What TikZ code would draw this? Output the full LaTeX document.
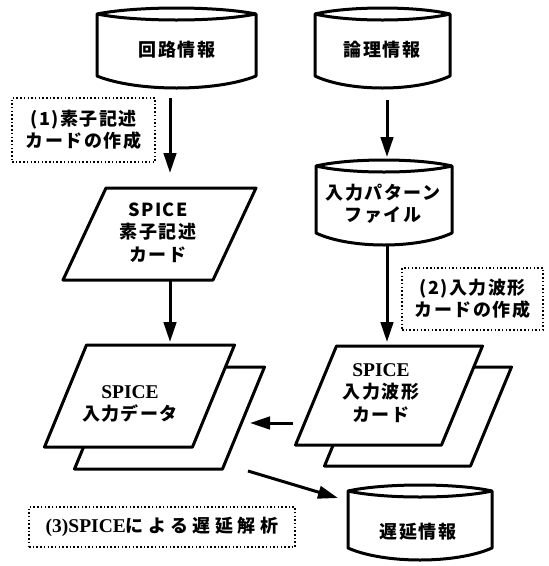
\documentclass[tikz,border=0pt]{standalone}
\usepackage{fontspec}
\usetikzlibrary{arrows.meta,calc}
\newfontfamily\jp{Noto Sans CJK JP}[LetterSpace=8]
\newfontfamily\jpw{Noto Sans CJK JP}[LetterSpace=25]
\newfontfamily\ser{Liberation Serif}
\tikzset{
 shp/.style={line width=3pt, line join=round},
 arr/.style={line width=3pt, -{Triangle[length=20pt,width=12.5pt]}},
 dotbox/.style={draw, line width=1.8pt, dash pattern=on 1.5pt off 2.2pt},
 txt/.style={font=\fontsize{18}{22.5}\selectfont\jp\bfseries, align=center, inner sep=0pt},
 area/.style={inner sep=0pt, outer sep=0pt},
}
\newcommand\cylout[3]{%
 \begin{scope}[shift={(#1.center)}]
  \draw[shp,fill=white] (-#2,-#3+6) .. controls (-#2*0.5,-#3-2) and (#2*0.5,-#3-2) .. (#2,-#3+6) -- (#2,#3-12) .. controls (#2*0.5,#3+4) and (-#2*0.5,#3+4) .. (-#2,#3-12) -- cycle;
  \draw[shp] (-#2,-#3+6) .. controls (-#2*0.5,-#3+14) and (#2*0.5,-#3+14) .. (#2,-#3+6);
 \end{scope}}
\newcommand\paraout[4]{%
 \draw[shp,fill=white] ([shift={(-#2+#4,-#3)}]#1.center) -- ([shift={(#2+#4,-#3)}]#1.center) -- ([shift={(#2-#4,#3)}]#1.center) -- ([shift={(-#2-#4,#3)}]#1.center) -- cycle;}
\begin{document}
\begin{tikzpicture}[x=1pt,y=-1pt]
\useasboundingbox (0,0) rectangle (549,566);
% shape areas
\node[area, minimum width=159pt, minimum height=80pt] (c1) at (176.5,48) {};
\node[area, minimum width=135pt, minimum height=80pt] (c2) at (382.5,48) {};
\node[area, minimum width=136pt, minimum height=85pt] (c3) at (384,202.5) {};
\node[area, minimum width=144pt, minimum height=75pt] (c4) at (420,522.5) {};
\node[area, minimum width=150pt, minimum height=92pt] (p1) at (159.5,234) {};
\node[area, minimum width=148pt, minimum height=102pt] (p2b) at (169.5,418) {};
\node[area, minimum width=148pt, minimum height=102pt] (p2) at (139.5,396) {};
\node[area, minimum width=146pt, minimum height=99pt] (p3b) at (418,416.5) {};
\node[area, minimum width=146pt, minimum height=99pt] (p3) at (389,395.5) {};
% outlines
\cylout{c1}{79.5}{40}
\cylout{c2}{67.5}{40}
\cylout{c3}{68}{42.5}
\cylout{c4}{72}{37.5}
\paraout{p1}{75}{46}{21.5}
\paraout{p2b}{74}{51}{21}
\paraout{p2}{74}{51}{21}
\paraout{p3b}{73}{49.5}{20.5}
\paraout{p3}{73}{49.5}{20.5}
% texts
\node[txt] (t1) at (177,50) {回路情報};
\node[txt] (t2) at (382,50) {論理情報};
\node[txt] (t3) at (383,204) {入力パターン\\ファイル};
\node[txt] (t4) at (418,532) {遅延情報};
\node[txt] (tp1) at (158,232.5) {SPICE\\素子記述\\カード};
\node[txt] (tp2) at (130,404) {{\ser\fontsize{19.5}{22.5}\selectfont SPICE}\\入力データ};
\node[txt] (tp3) at (381,393) {{\ser\fontsize{19.5}{22}\selectfont SPICE}\\入力波形\\カード};
% dotted boxes
\node[dotbox, txt, minimum width=143pt, minimum height=64pt] (b1) at (83.5,130) {(1)素子記述\\カードの作成};
\node[dotbox, txt, minimum width=141pt, minimum height=62pt] (b2) at (472.5,299) {(2)入力波形\\カードの作成};
\node[dotbox, txt, minimum width=266pt, minimum height=40pt] (b3) at (162,527) {{\ser\fontsize{19.5}{22}\selectfont (3)SPICE}{\jpw\bfseries による遅延解析}};
% arrows
\draw[arr, shorten <=10pt, shorten >=15pt] ([xshift=-6.5pt]c1.south) -- ([xshift=10.5pt]p1.north);
\draw[arr, shorten >=3pt] ([xshift=10.5pt]p1.south) -- ([xshift=30.5pt]p2.north);
\draw[arr, shorten <=12pt, shorten >=3pt] ([xshift=4.5pt]c2.south) -- ([xshift=3pt]c3.north);
\draw[arr, shorten >=4pt] ([xshift=3pt]c3.south) -- ([xshift=-2pt]p3.north);
\draw[arr] ([xshift=-23pt,yshift=-27.5pt]p3.west) -- ([xshift=6.5pt,yshift=-5pt]p2b.east);
\draw[arr] ([xshift=4.5pt,yshift=-2pt]p2b.south east) -- ([xshift=-10pt,yshift=24.5pt]c4.west);
\end{tikzpicture}
\end{document}
